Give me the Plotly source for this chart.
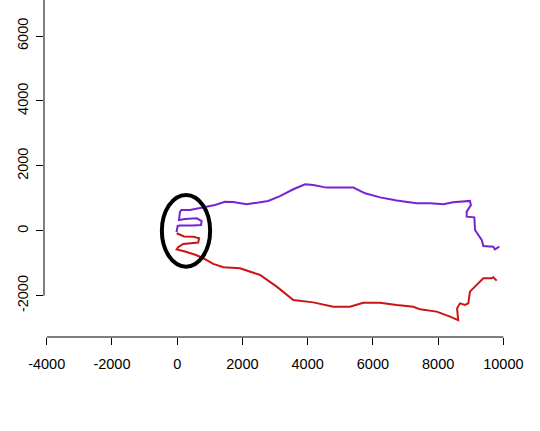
import plotly.graph_objects as go

# Purple track (data units), ordered from the end inside the ellipse
purple_x = [-20, 15, 85, 240, 480, 730, 750, 600, 240, 55, 85, 130, 390, 700, 910,
            1160, 1465, 1720, 2130, 2440, 2790, 3150, 3560, 3920, 4170, 4580, 4990,
            5400, 5760, 6220, 6730, 7340, 7750, 8160, 8460, 8975, 9005, 8875, 8875,
            9110, 9130, 9335, 9385, 9690, 9740, 9875]
purple_y = [-40, 150, 160, 155, 165, 180, 300, 385, 365, 330, 580, 640, 640, 700, 740,
            795, 895, 885, 815, 865, 920, 1070, 1280, 1430, 1410, 1330, 1330,
            1330, 1155, 1030, 930, 850, 845, 815, 880, 920, 795, 590, 435,
            415, 25, -285, -470, -490, -570, -490]

# Red track (data units), ordered from the end inside the ellipse
red_x = [-15, 210, 495, 670, 645, 390, 185, 35, -15, 240, 575, 800, 1105, 1415, 1925,
         2540, 3050, 3560, 4170, 4785, 5295, 5705, 6215, 6730, 7240, 7445, 7955, 8365,
         8615, 8580, 8670, 8825, 8925, 8975, 9230, 9385, 9640, 9690, 9795]
red_y = [-75, -175, -180, -230, -360, -385, -405, -500, -575, -640, -745, -845, -1020,
         -1125, -1155, -1360, -1720, -2130, -2205, -2340, -2340, -2215, -2215, -2285,
         -2340, -2420, -2490, -2645, -2750, -2390, -2235, -2285, -2235, -1875, -1615,
         -1465, -1465, -1430, -1535]

# Highlight ellipse bounds (data units)
ellipse_x = [-470, 1010]
ellipse_y = [-1105, 1105]

x_ticks = [-4000, -2000, 0, 2000, 4000, 6000, 8000, 10000]
y_ticks = [-2000, 0, 2000, 4000, 6000]

x_range = [-4083, 10356]
y_range = [-3272, 7110]

fig = go.Figure()
fig.add_trace(go.Scatter(x=purple_x, y=purple_y, mode="lines",
                         line=dict(color="#7424d2", width=2), showlegend=False))
fig.add_trace(go.Scatter(x=red_x, y=red_y, mode="lines",
                         line=dict(color="#cc1414", width=2), showlegend=False))

fig.add_shape(type="circle", xref="x", yref="y",
              x0=ellipse_x[0], x1=ellipse_x[1], y0=ellipse_y[0], y1=ellipse_y[1],
              line=dict(color="black", width=4), layer="above")

# R-style axis lines spanning first to last tick
fig.add_shape(type="line", xref="x", yref="paper", x0=x_ticks[0], x1=x_ticks[-1],
              y0=0, y1=0, line=dict(color="black", width=1))
fig.add_shape(type="line", xref="paper", yref="y", x0=0, x1=0,
              y0=y_ticks[0], y1=y_range[1], line=dict(color="black", width=1))

font = dict(family="Liberation Sans, Arial, sans-serif", size=14.5, color="black")

fig.update_layout(
    width=540, height=431,
    margin=dict(l=44, r=25, t=0, b=94),
    paper_bgcolor="white", plot_bgcolor="white",
    font=font,
    xaxis=dict(range=x_range, tickmode="array", tickvals=x_ticks,
               ticktext=[str(v) for v in x_ticks], automargin=False,
               showgrid=False, zeroline=False, showline=False,
               ticks="outside", ticklen=7, tickwidth=1, tickcolor="black",
               ticklabelstandoff=7, tickfont=font),
    yaxis=dict(range=y_range, tickmode="array", tickvals=y_ticks,
               ticktext=[str(v) for v in y_ticks], automargin=False,
               showgrid=False, zeroline=False, showline=False,
               ticks="outside", ticklen=7, tickwidth=1, tickcolor="black",
               tickangle=-90, ticklabelstandoff=2, tickfont=font),
)

fig.write_html(
    "out.html",
    config={"displayModeBar": False},
    post_script="document.body.style.margin='0px';document.body.style.overflow='hidden';",
)
